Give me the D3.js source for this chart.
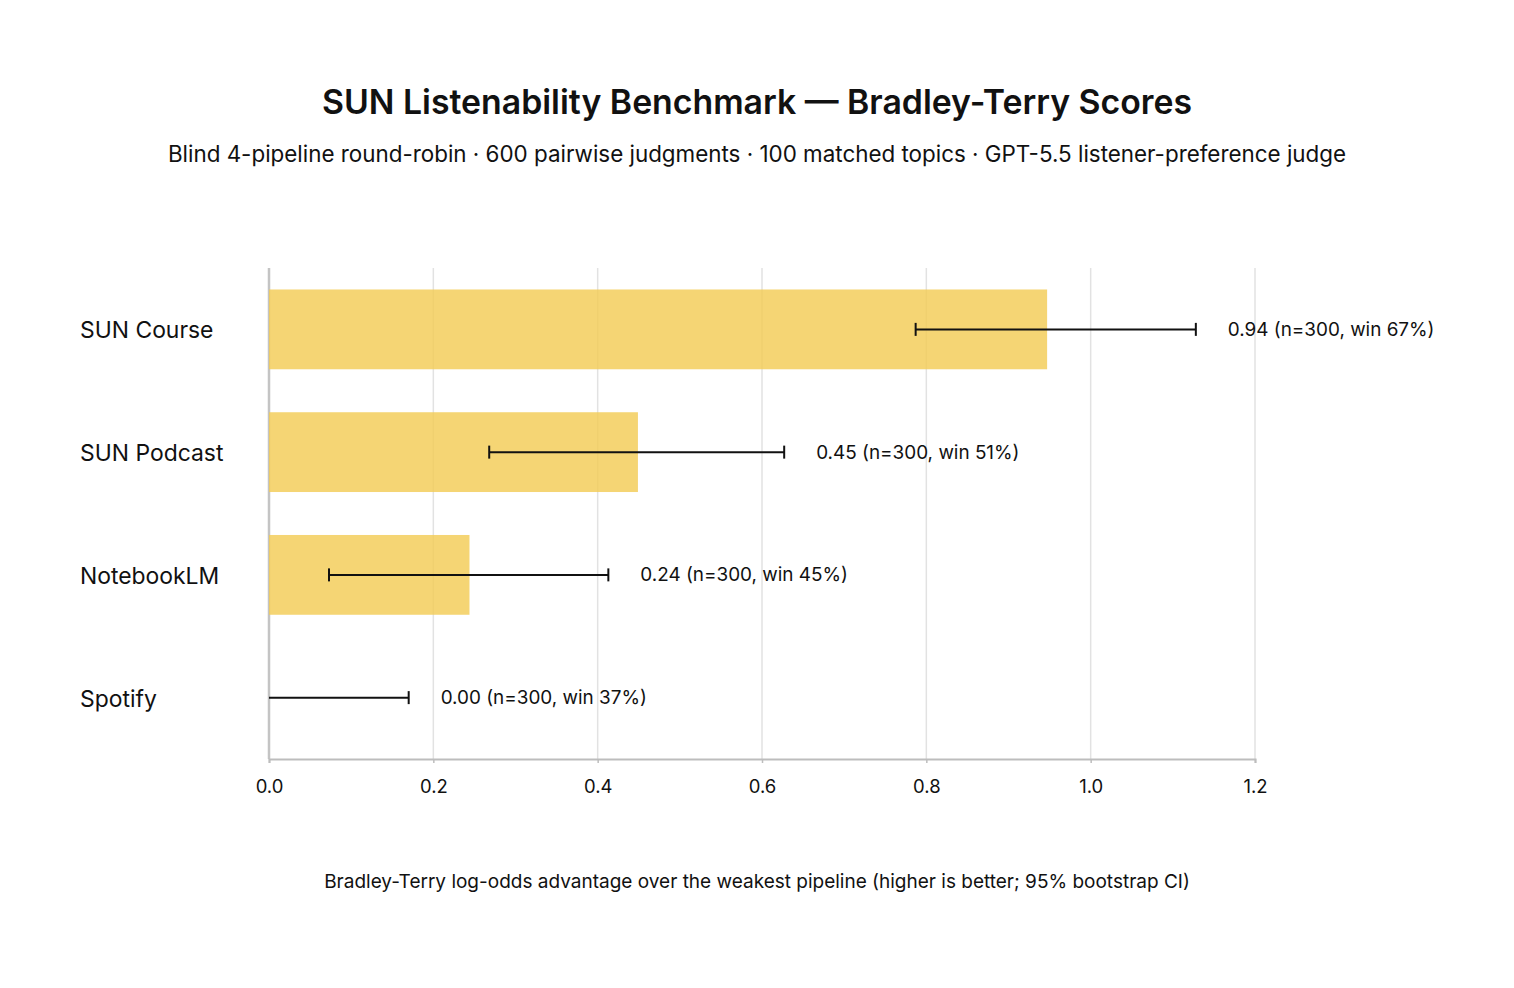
<!DOCTYPE html>
<html>
<head>
<meta charset="utf-8">
<script src="https://cdn.jsdelivr.net/npm/d3@7"></script>
<style>
  html, body { margin: 0; padding: 0; background: #fff; }
  svg { display: block; font-family: Inter, "Noto Sans", sans-serif; }
</style>
</head>
<body>
<div class="main-container"></div>
<script>
// data
const pipelines = ["SUN Course", "SUN Podcast", "NotebookLM", "Spotify"];
const scores = [0.947, 0.449, 0.244, 0.0];
const ciLow = [0.787, 0.268, 0.073, 0.0];
const ciHigh = [1.128, 0.627, 0.413, 0.170];
const scoreLabels = ["0.94", "0.45", "0.24", "0.00"];
const counts = [300, 300, 300, 300];
const winRates = [67, 51, 45, 37];
const xTicks = [0, 0.2, 0.4, 0.6, 0.8, 1.0, 1.2];

const W = 1514, H = 988;
const M = { left: 269, right: 259, top: 268, bottom: 229 };

const rows = pipelines.map((p, i) => ({
  name: p, score: scores[i], lo: ciLow[i], hi: ciHigh[i],
  label: `${scoreLabels[i]} (n=${counts[i]}, win ${winRates[i]}%)`
}));

const svg = d3.select(".main-container").append("svg")
  .attr("width", W).attr("height", H);

const x = d3.scaleLinear().domain([0, 1.2]).range([M.left, W - M.right]);
const y = d3.scaleBand().domain(pipelines).range([M.top, H - M.bottom])
  .paddingInner(0.35).paddingOuter(0.175);

// title
svg.append("text").attr("x", W / 2).attr("y", 114).attr("text-anchor", "middle")
  .attr("font-size", 33.8).attr("font-weight", 600).attr("fill", "#111")
  .text("SUN Listenability Benchmark \u2014 Bradley-Terry Scores");
svg.append("text").attr("x", W / 2).attr("y", 162).attr("text-anchor", "middle")
  .attr("font-size", 22.4).attr("fill", "#111")
  .text("Blind 4-pipeline round-robin \u00b7 600 pairwise judgments \u00b7 100 matched topics \u00b7 GPT-5.5 listener-preference judge");

// grid
svg.append("g").selectAll("line").data(xTicks).join("line")
  .attr("x1", d => x(d)).attr("x2", d => x(d))
  .attr("y1", M.top).attr("y2", H - M.bottom)
  .attr("stroke", d => d === 0 ? "#c4c4c4" : "#e2e2e2")
  .attr("stroke-width", d => d === 0 ? 2.5 : 1.5);

// x axis
const xAxis = svg.append("g").attr("transform", `translate(0,${H - M.bottom})`)
  .call(d3.axisBottom(x).tickValues(xTicks).tickFormat(d3.format(".1f")).tickSize(4).tickPadding(17));
xAxis.select(".domain").attr("stroke", "#bdbdbd").attr("stroke-width", 2);
xAxis.selectAll(".tick line").attr("stroke", "#bdbdbd").attr("stroke-width", 1.5);
xAxis.selectAll(".tick text").attr("font-size", 18.5).attr("fill", "#111")
  .attr("font-family", "Inter, 'Noto Sans', sans-serif");

// bars
svg.append("g").selectAll("rect").data(rows).join("rect")
  .attr("x", x(0)).attr("y", d => y(d.name))
  .attr("width", d => x(d.score) - x(0)).attr("height", y.bandwidth())
  .attr("fill", "#f3cc55").attr("fill-opacity", 0.82);

// error bars
const eb = svg.append("g").attr("stroke", "#111").attr("stroke-width", 2);
const cy = d => y(d.name) + y.bandwidth() / 2;
eb.selectAll("line.ci").data(rows).join("line").attr("class", "ci")
  .attr("x1", d => x(d.lo)).attr("x2", d => x(d.hi))
  .attr("y1", cy).attr("y2", cy);
eb.selectAll("line.cl").data(rows.filter(d => d.lo > 0)).join("line").attr("class", "cl")
  .attr("x1", d => x(d.lo)).attr("x2", d => x(d.lo))
  .attr("y1", d => cy(d) - 6.5).attr("y2", d => cy(d) + 6.5);
eb.selectAll("line.ch").data(rows).join("line").attr("class", "ch")
  .attr("x1", d => x(d.hi)).attr("x2", d => x(d.hi))
  .attr("y1", d => cy(d) - 6.5).attr("y2", d => cy(d) + 6.5);

// value labels
svg.append("g").selectAll("text").data(rows).join("text")
  .attr("x", d => x(d.hi) + 32).attr("y", cy).attr("dy", "0.35em")
  .attr("font-size", 18.9).attr("fill", "#111")
  .text(d => d.label);

// category labels
svg.append("g").selectAll("text").data(rows).join("text")
  .attr("x", 80).attr("y", d => cy(d) + 1).attr("dy", "0.35em")
  .attr("font-size", 22.9).attr("fill", "#111")
  .text(d => d.name);

// x title
svg.append("text").attr("x", W / 2).attr("y", 888).attr("text-anchor", "middle")
  .attr("font-size", 19).attr("fill", "#111")
  .text("Bradley-Terry log-odds advantage over the weakest pipeline (higher is better; 95% bootstrap CI)");
</script>
</body>
</html>
